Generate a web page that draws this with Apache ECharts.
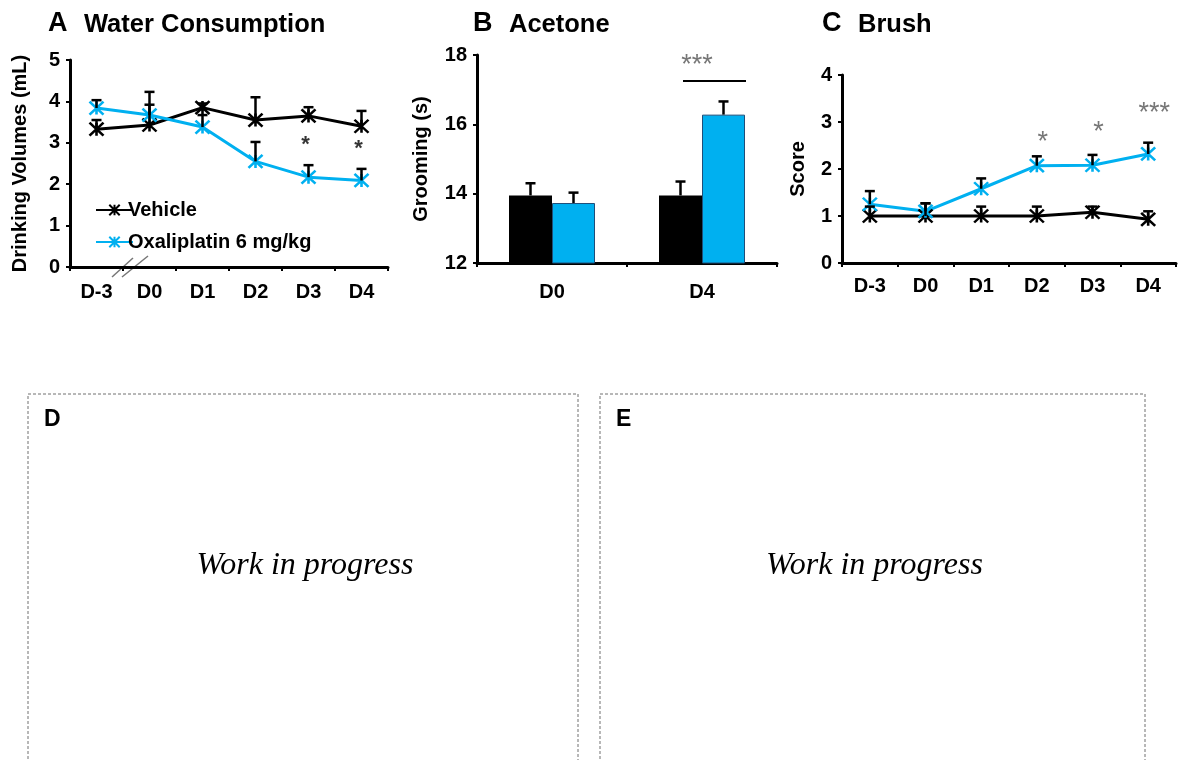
<!DOCTYPE html>
<html>
<head>
<meta charset="utf-8">
<script src="https://cdn.jsdelivr.net/npm/echarts@6/dist/echarts.min.js"></script>
<style>
  html, body { margin: 0; padding: 0; background: #fff; }
  #main { width: 1178px; height: 760px; }
</style>
</head>
<body>
<div id="main"></div>
<script>
var myChart = echarts.init(document.getElementById('main'));

// ---- data ----
var days = ['D-3', 'D0', 'D1', 'D2', 'D3', 'D4'];
var groupsB = ['D0', 'D4'];

// A: water consumption (mL), mean and upper error
var waterVehicle = [3.33, 3.43, 3.85, 3.55, 3.65, 3.40];
var waterVehicleErr = [0.22, 0.80, 0.10, 0.55, 0.21, 0.37];
var waterOxa = [3.84, 3.67, 3.38, 2.55, 2.17, 2.09];
var waterOxaErr = [0.19, 0.25, 0.29, 0.47, 0.29, 0.28];
var sigAx = ['D3', 'D4'];
var sigAy = [3.06, 2.95];
var sigAText = ['*', '*'];

// B: acetone grooming (s)
var acetoneVehicle = [13.95, 13.95];
var acetoneVehicleErr = [0.35, 0.40];
var acetoneOxa = [13.73, 16.28];
var acetoneOxaErr = [0.30, 0.38];
var sigBx = ['D4'];
var sigBy = [17.85];
var sigBText = ['***'];
var bracketB = 17.25;

// C: brush score
var brushVehicle = [1.0, 1.0, 1.0, 1.0, 1.08, 0.93];
var brushVehicleErr = [0.2, 0.27, 0.2, 0.2, 0.12, 0.17];
var brushOxa = [1.25, 1.1, 1.58, 2.07, 2.08, 2.32];
var brushOxaErr = [0.28, 0.17, 0.22, 0.2, 0.22, 0.24];
var sigCx = ['D2', 'D3', 'D4'];
var sigCy = [2.68, 2.89, 3.3];
var sigCText = ['*', '*', '***'];

var BLUE = '#00B0F0';
var FONT = '"Liberation Sans", Arial, sans-serif';
var starSym = 'path://M0,0L12,12M12,0L0,12M6,0L6,12';

function errData(cats, vals, errs) {
    return cats.map(function (c, i) { return [i, vals[i], vals[i] + errs[i]]; });
}

function errSeries(idx, data, color, offset) {
    return {
        type: 'custom',
        xAxisIndex: idx,
        yAxisIndex: idx,
        z: 4,
        silent: true,
        data: data,
        renderItem: function (params, api) {
            var p0 = api.coord([api.value(0), api.value(1)]);
            var p1 = api.coord([api.value(0), api.value(2)]);
            var x = p0[0] + offset;
            return {
                type: 'group',
                children: [
                    {type: 'line', shape: {x1: x, y1: p0[1], x2: x, y2: p1[1]},
                     style: {stroke: color, lineWidth: 2.5}},
                    {type: 'line', shape: {x1: x - 5, y1: p1[1], x2: x + 5, y2: p1[1]},
                     style: {stroke: color, lineWidth: 2.5}}
                ]
            };
        }
    };
}

function sigSeries(idx, xs, ys, texts, color, dx, size, weight) {
    return {
        type: 'scatter',
        xAxisIndex: idx,
        yAxisIndex: idx,
        symbolSize: 0,
        silent: true,
        data: xs.map(function (x, i) { return {value: [x, ys[i]], name: texts[i]}; }),
        label: {
            show: true,
            position: 'inside',
            offset: [dx, size / 5],
            formatter: '{b}',
            color: color,
            fontFamily: FONT,
            fontWeight: weight,
            fontSize: size
        }
    };
}

function lineSeries(name, idx, vals, color, z) {
    return {
        name: name,
        type: 'line',
        xAxisIndex: idx,
        yAxisIndex: idx,
        data: vals,
        symbol: starSym,
        symbolSize: [14, 13],
        showAllSymbol: true,
        z: z,
        lineStyle: {color: color, width: 3},
        itemStyle: {color: color, borderColor: color, borderWidth: 2.5},
        emphasis: {disabled: true}
    };
}

var axisLineStyle = {show: true, lineStyle: {color: '#000', width: 3}};
var tickLabel = {color: '#000', fontFamily: FONT, fontWeight: 'bold', fontSize: 20};
var nameStyle = {color: '#000', fontFamily: FONT, fontWeight: 'bold', fontSize: 20};

function catAxis(idx, cats, margin) {
    return {
        type: 'category',
        gridIndex: idx,
        data: cats,
        boundaryGap: true,
        axisLine: axisLineStyle,
        axisTick: {show: true, length: 4, lineStyle: {color: '#000', width: 2}},
        axisLabel: Object.assign({margin: margin, interval: 0}, tickLabel)
    };
}

function valAxis(idx, min, max, step, name, gap) {
    return {
        type: 'value',
        gridIndex: idx,
        min: min, max: max, interval: step,
        name: name,
        nameLocation: 'middle',
        nameRotate: 90,
        nameGap: gap,
        nameTextStyle: nameStyle,
        axisLine: axisLineStyle,
        axisTick: {show: true, length: 4, lineStyle: {color: '#000', width: 2}},
        splitLine: {show: false},
        axisLabel: Object.assign({margin: 10}, tickLabel)
    };
}

function titleText(x, letter, text) {
    return [
        {type: 'text', left: x, top: 10,
         style: {text: letter, font: 'bold 27px ' + FONT, fill: '#000'}},
        {type: 'text', left: x + 36, top: 12,
         style: {text: text, font: 'bold 25.5px ' + FONT, fill: '#000'}}
    ];
}

function panelBox(x, w, letter) {
    return [
        {type: 'rect', shape: {x: x, y: 394, width: w, height: 400},
         style: {fill: 'none', stroke: '#707070', lineWidth: 1, lineDash: [3, 2]}},
        {type: 'text', left: x + 16, top: 408,
         style: {text: letter, font: 'bold 23px ' + FONT, fill: '#000'}},
        {type: 'text', x: x + w / 2 + 2, y: 566,
         style: {text: 'Work in progress', font: 'italic 32px "Liberation Serif", "DejaVu Serif", serif',
                 fill: '#000', align: 'center', verticalAlign: 'middle'}}
    ];
}

option = {
    backgroundColor: '#fff',
    animation: false,
    grid: [
        {left: 70, top: 60, width: 318, height: 207},
        {left: 477, top: 55, width: 300, height: 208},
        {left: 842, top: 75, width: 334, height: 188}
    ],
    legend: {
        data: ['Vehicle', 'Oxaliplatin 6 mg/kg'],
        orient: 'vertical',
        left: 90,
        top: 195,
        itemWidth: 37,
        itemHeight: 13,
        itemGap: 12,
        textStyle: {color: '#000', fontFamily: FONT, fontWeight: 'bold', fontSize: 20, padding: [0, 0, 0, -10]}
    },
    xAxis: [
        catAxis(0, days, 15),
        catAxis(1, groupsB, 19),
        catAxis(2, days, 13)
    ],
    yAxis: [
        valAxis(0, 0, 5, 1, 'Drinking Volumes (mL)', 40),
        valAxis(1, 12, 18, 2, 'Grooming (s)', 46),
        valAxis(2, 0, 4, 1, 'Score', 34)
    ],
    graphic: [].concat(
        titleText(48, 'A', 'Water Consumption'),
        titleText(473, 'B', 'Acetone'),
        titleText(822, 'C', 'Brush'),
        [
            {type: 'line', shape: {x1: 112, y1: 277, x2: 133, y2: 258}, style: {stroke: '#777', lineWidth: 1.5}},
            {type: 'line', shape: {x1: 122, y1: 277, x2: 148, y2: 256}, style: {stroke: '#777', lineWidth: 1.5}}
        ],
        panelBox(28, 550, 'D'),
        panelBox(600, 545, 'E')
    ),
    series: [
        // A
        lineSeries('Vehicle', 0, waterVehicle, '#000', 3),
        lineSeries('Oxaliplatin 6 mg/kg', 0, waterOxa, BLUE, 3),
        errSeries(0, errData(days, waterVehicle, waterVehicleErr), '#000', 0),
        errSeries(0, errData(days, waterOxa, waterOxaErr), '#000', 0),
        sigSeries(0, sigAx, sigAy, sigAText, '#000', -3, 22, 'bold'),
        // B
        {
            name: 'Vehicle B', type: 'bar', xAxisIndex: 1, yAxisIndex: 1,
            data: acetoneVehicle, barWidth: 43, barGap: '0%',
            itemStyle: {color: '#000'}, silent: true
        },
        {
            name: 'Oxaliplatin B', type: 'bar', xAxisIndex: 1, yAxisIndex: 1,
            data: acetoneOxa, barWidth: 43, barGap: '0%',
            itemStyle: {color: BLUE, borderColor: '#1f4e79', borderWidth: 1}, silent: true
        },
        errSeries(1, errData(groupsB, acetoneVehicle, acetoneVehicleErr), '#000', -21.5),
        errSeries(1, errData(groupsB, acetoneOxa, acetoneOxaErr), '#000', 21.5),
        sigSeries(1, sigBx, sigBy, sigBText, '#555', -5, 27, 'normal'),
        {
            type: 'custom', xAxisIndex: 1, yAxisIndex: 1, silent: true,
            data: [[1, bracketB]],
            renderItem: function (params, api) {
                var p = api.coord([api.value(0), api.value(1)]);
                return {type: 'line', shape: {x1: p[0] - 19, y1: p[1], x2: p[0] + 44, y2: p[1]},
                        style: {stroke: '#000', lineWidth: 2}};
            }
        },
        // C
        lineSeries('Vehicle C', 2, brushVehicle, '#000', 3),
        lineSeries('Oxaliplatin C', 2, brushOxa, BLUE, 3),
        errSeries(2, errData(days, brushVehicle, brushVehicleErr), '#000', 0),
        errSeries(2, errData(days, brushOxa, brushOxaErr), '#000', 0),
        sigSeries(2, sigCx, sigCy, sigCText, '#555', 6, 27, 'normal')
    ]
};

myChart.setOption(option);
</script>
</body>
</html>
